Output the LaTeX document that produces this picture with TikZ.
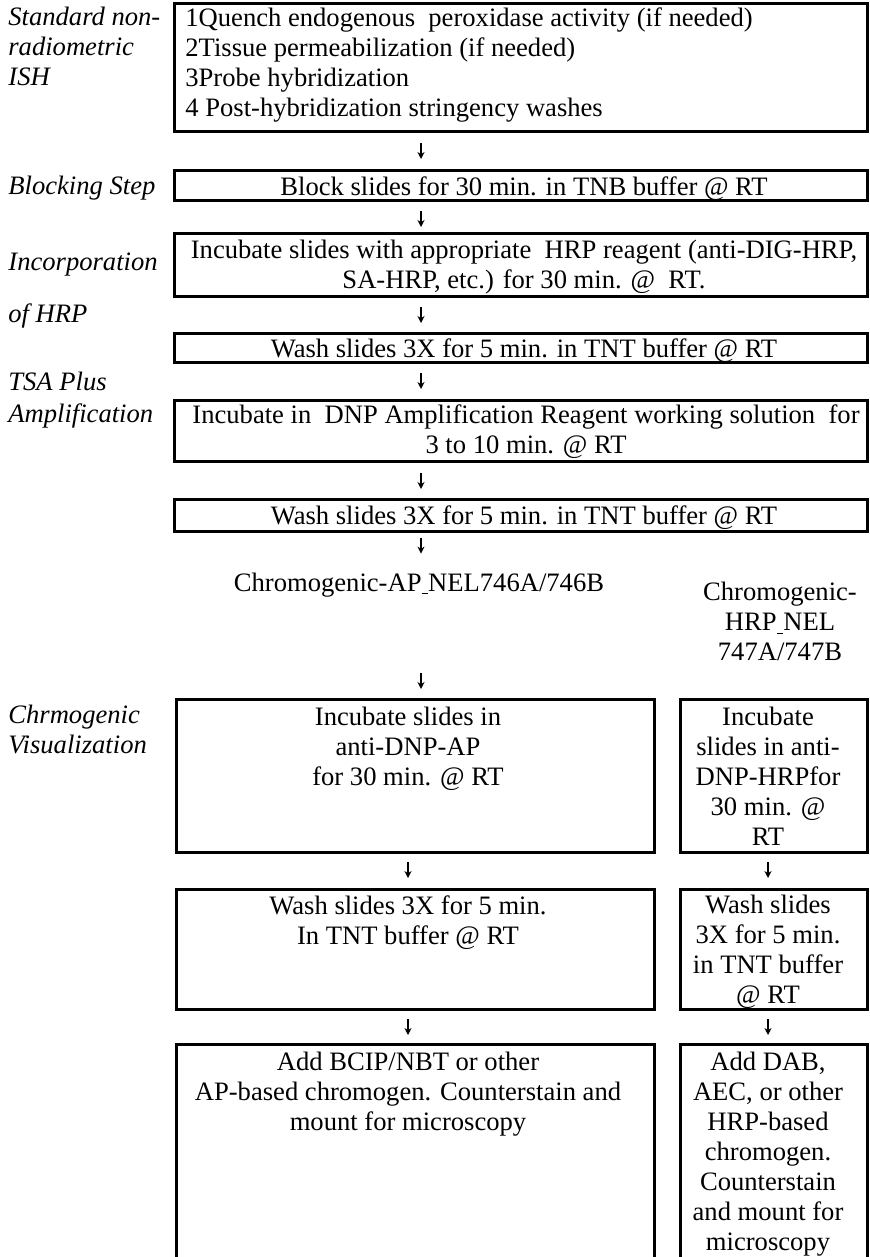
\documentclass[tikz,border=0pt]{standalone}
\usepackage{fontspec}
\setmainfont{Liberation Serif}
\usetikzlibrary{arrows.meta}
\begin{document}
\begin{tikzpicture}[x=0.5pt,y=-0.5pt,
  box/.style={draw, line width=1.5pt, inner sep=0pt, outer sep=0pt},
  txt/.style={inner sep=0pt, align=center, font=\fontsize{13.3}{15}\selectfont},
  lab/.style={inner sep=0pt, align=left, anchor=north west, font=\fontsize{13.3}{15}\selectfont\itshape},
  arr/.style={line width=0.7pt, -{Stealth[length=3.5pt,width=3.5pt]}}]
\useasboundingbox (0,0) rectangle (870,1257);
\clip (0,0) rectangle (870,1257);
\fill[white] (0,0) rectangle (870,1257);
% column coordinates
\coordinate (cA) at (421,0);
\coordinate (cL) at (408,0);
\coordinate (cR) at (768,0);
% boxes
\node[box, minimum width=346.5pt, minimum height=64pt] (b1) at (520.5,68) {};
\node[box, minimum width=346.5pt, minimum height=15pt] (b2) at (520.5,186) {};
\node[box, minimum width=346.5pt, minimum height=31pt] (b3) at (520.5,265) {};
\node[box, minimum width=346.5pt, minimum height=14.5pt] (b4) at (520.5,347.5) {};
\node[box, minimum width=346.5pt, minimum height=30.5pt] (b5) at (520.5,430.5) {};
\node[box, minimum width=346.5pt, minimum height=16pt] (b6) at (520.5,515) {};
\node[box, minimum width=239pt, minimum height=76.5pt] (l1) at (415,775.5) {};
\node[box, minimum width=93.5pt, minimum height=76.5pt] (r1) at (773.5,775.5) {};
\node[box, minimum width=239pt, minimum height=60pt] (l2) at (415,949) {};
\node[box, minimum width=93.5pt, minimum height=60pt] (r2) at (773.5,949) {};
\node[box, minimum width=239pt, minimum height=133pt] (l3) at (415,1177) {};
\node[box, minimum width=93.5pt, minimum height=133pt] (r3) at (773.5,1177) {};
% texts in boxes
\node[txt, align=left, anchor=north west] (t1) at (185,7) {1Quench endogenous~ peroxidase activity (if needed)\\2Tissue permeabilization (if needed)\\3Probe hybridization\\4 Post-hybridization stringency washes};
\node[txt, anchor=north] (t2) at (524,176) {Block slides for 30 min. in TNB buffer @ RT};
\node[txt, anchor=north] (t3) at (524,240) {Incubate slides with appropriate~ HRP reagent (anti-DIG-HRP,\\SA-HRP, etc.) for 30 min. @~ RT.};
\node[txt, anchor=north] (t4) at (524,338) {Wash slides 3X for 5 min. in TNT buffer @ RT};
\node[txt, anchor=north] (t5) at (526,404) {Incubate in~ DNP Amplification Reagent working solution~ for\\3 to 10 min. @ RT};
\node[txt, anchor=north] (t6) at (524,505) {Wash slides 3X for 5 min. in TNT buffer @ RT};
\node[txt, anchor=base, text height=9pt, text depth=3pt] (apl) at (419,591) {Chromogenic-AP\underline{\ }NEL746A/746B};
\node[txt, anchor=north] (hrpl) at (780,582) {Chromogenic-\\HRP\underline{\ }NEL\\747A/747B};
\node[txt, anchor=north] (tl1) at (408,707) {Incubate slides in\\anti-DNP-AP\\for 30 min. @ RT};
\node[txt, anchor=north] (tr1) at (768,707) {Incubate\\slides in anti-\\DNP-HRPfor\\30 min. @\\RT};
\node[txt, anchor=north] (tl2) at (408,895) {Wash slides 3X for 5 min.\\In TNT buffer @ RT};
\node[txt, anchor=north] (tr2) at (768,895) {Wash slides\\3X for 5 min.\\in TNT buffer\\@ RT};
\node[txt, anchor=north] (tl3) at (408,1052) {Add BCIP/NBT or other\\AP-based chromogen. Counterstain and\\mount for microscopy};
\node[txt, anchor=north] (tr3) at (768,1052) {Add DAB,\\AEC, or other\\HRP-based\\chromogen.\\Counterstain\\and mount for\\microscopy};
% side labels
\node[lab] (s1) at (8,7) {Standard non-\\radiometric\\ISH};
\node[lab] (s2) at (8,176) {Blocking Step};
\node[lab] (s3a) at (8,252) {Incorporation};
\node[lab] (s3b) at (8,303) {of HRP};
\node[lab] (s4a) at (8,372) {TSA Plus};
\node[lab] (s4b) at (8,403) {Amplification};
\node[lab] (s5) at (8,705) {Chrmogenic\\Visualization};
% arrows
\draw[arr, shorten <=5.5pt, shorten >=6pt] (b1.south -| cA) -- (b2.north -| cA);
\draw[arr, shorten <=5pt, shorten >=3.5pt] (b2.south -| cA) -- (b3.north -| cA);
\draw[arr, shorten <=5.5pt, shorten >=5pt] (b3.south -| cA) -- (b4.north -| cA);
\draw[arr, shorten <=5.5pt, shorten >=5.5pt] (b4.south -| cA) -- (b5.north -| cA);
\draw[arr, shorten <=6pt, shorten >=5pt] (b5.south -| cA) -- (b6.north -| cA);
\draw[arr, shorten <=3.5pt, shorten >=9.5pt] (b6.south -| cA) -- (apl.north -| cA);
\draw[arr, shorten <=38pt, shorten >=5pt] (apl.south -| cA) -- (l1.north -| cA);
\draw[arr, shorten <=5pt, shorten >=5.5pt] (l1.south -| cL) -- (l2.north -| cL);
\draw[arr, shorten <=5pt, shorten >=5.5pt] (r1.south -| cR) -- (r2.north -| cR);
\draw[arr, shorten <=5pt, shorten >=4.5pt] (l2.south -| cL) -- (l3.north -| cL);
\draw[arr, shorten <=5pt, shorten >=4.5pt] (r2.south -| cR) -- (r3.north -| cR);
\end{tikzpicture}
\end{document}
